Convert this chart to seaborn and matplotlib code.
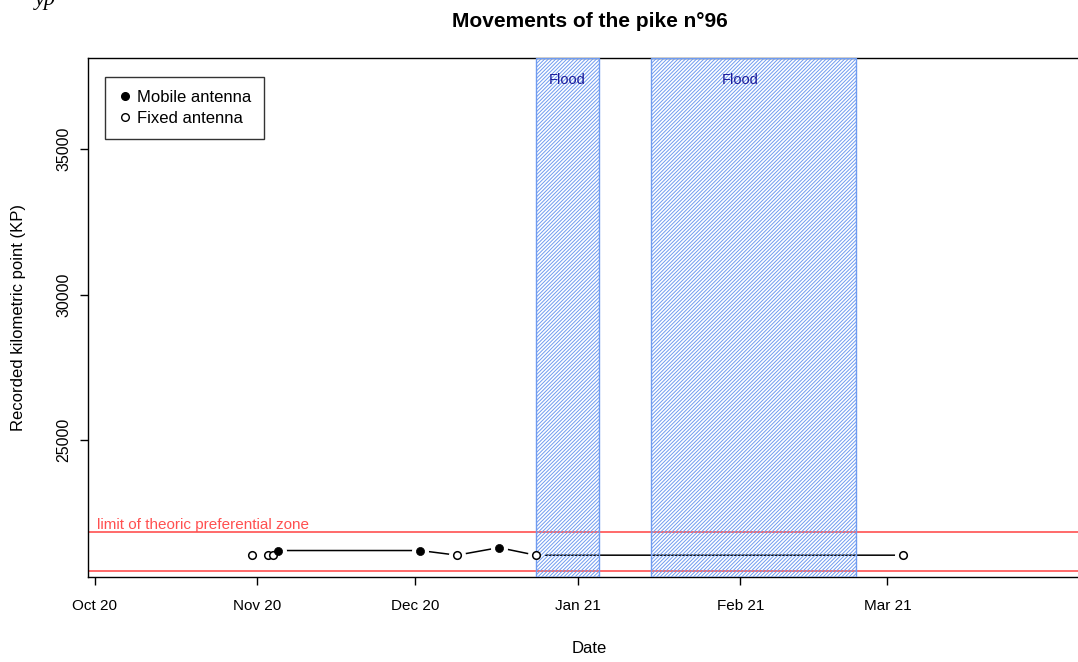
import numpy as np
import pandas as pd
import matplotlib
matplotlib.use("Agg")
import matplotlib.pyplot as plt
import seaborn as sns
from matplotlib.lines import Line2D

# ---------------- data ----------------
dates = ["2020-10-31", "2020-11-03", "2020-11-04", "2020-11-05", "2020-12-02",
         "2020-12-09", "2020-12-17", "2020-12-24", "2021-03-04"]
kp = [21040, 21040, 21040, 21200, 21200, 21040, 21300, 21040, 21040]
antenna = ["Fixed", "Fixed", "Fixed", "Mobile", "Mobile",
           "Fixed", "Mobile", "Fixed", "Fixed"]

flood_start = ["2020-12-24", "2021-01-15"]
flood_end = ["2021-01-05", "2021-02-23"]
flood_label_dates = ["2020-12-30", "2021-02-01"]
flood_labels = ["Flood", "Flood"]

zone_limits = [20500, 21830]
zone_label = "limit of theoric preferential zone"
zone_label_y = 22090

x_tick_dates = ["2020-10-01", "2020-11-01", "2020-12-01", "2021-01-01",
                "2021-02-01", "2021-03-01"]
x_tick_labels = ["Oct 20", "Nov 20", "Dec 20", "Jan 21", "Feb 21", "Mar 21"]
y_ticks = [25000, 30000, 35000]

df = pd.DataFrame({"date": pd.to_datetime(dates), "kp": kp, "antenna": antenna})

# ---------------- style ----------------
sns.set_theme(style="ticks")
plt.rcParams["font.family"] = ["Liberation Sans", "DejaVu Sans"]
plt.rcParams["hatch.linewidth"] = 0.7
for k in ["text.color", "axes.labelcolor", "xtick.color", "ytick.color"]:
    plt.rcParams[k] = "black"

fig = plt.figure(figsize=(10.78, 6.62), dpi=100)
ax = fig.add_axes([88 / 1078, 1 - 577 / 662, (1091 - 88) / 1078, (577 - 58) / 662])

# line connecting all observations
sns.lineplot(data=df, x="date", y="kp", sort=False, estimator=None,
             color="black", linewidth=1.1, ax=ax, zorder=2)
# white halos create gaps around points (R type="b")
sns.scatterplot(data=df, x="date", y="kp", color="white", s=150, linewidth=0,
                ax=ax, zorder=3, legend=False)

# floods
for s, e in zip(flood_start, flood_end):
    ax.axvspan(pd.Timestamp(s), pd.Timestamp(e), facecolor="none",
               edgecolor="#6f9bf0", hatch="/////////", linewidth=1.0, zorder=3.5)
for d, lab in zip(flood_label_dates, flood_labels):
    ax.text(pd.Timestamp(d), 37370, lab, color="#1a1a9a", fontsize=10.5,
            ha="center", va="center", zorder=5)

# zone limits
for yv in zone_limits:
    ax.axhline(yv, color="#ff5050", linewidth=1.2, zorder=1.5)
ax.text(0.009, zone_label_y, zone_label, color="#ff5050", fontsize=11,
        ha="left", va="center", transform=ax.get_yaxis_transform())

# markers
mob = df[df["antenna"] == "Mobile"]
fix = df[df["antenna"] == "Fixed"]
sns.scatterplot(data=fix, x="date", y="kp", s=30, facecolor="white",
                edgecolor="black", linewidth=1.1, ax=ax, zorder=4, legend=False)
sns.scatterplot(data=mob, x="date", y="kp", s=34, color="black",
                edgecolor="black", linewidth=0.5, ax=ax, zorder=4, legend=False)

# axes
ax.set_xlim(pd.Timestamp("2020-09-29 17:00"), pd.Timestamp("2021-04-08 19:00"))
ax.set_ylim(20290, 38130)
ax.set_xticks(pd.to_datetime(x_tick_dates))
ax.set_xticklabels(x_tick_labels, fontsize=11)
ax.set_yticks(y_ticks)
ax.set_yticklabels([str(v) for v in y_ticks], fontsize=11.5, rotation=90,
                   va="center", ha="right")
ax.tick_params(axis="both", direction="out", length=6, width=1, color="black")
ax.tick_params(axis="x", pad=10)
ax.tick_params(axis="y", pad=6)
for sp in ["top", "left", "bottom", "right"]:
    ax.spines[sp].set_visible(True)
    ax.spines[sp].set_color("black")
    ax.spines[sp].set_linewidth(1.0)

ax.set_xlabel("Date", fontsize=12)
ax.set_ylabel("Recorded kilometric point (KP)", fontsize=12)
ax.xaxis.set_label_coords((589 - 88) / 1003, (577 - 641) / 519)
ax.yaxis.set_label_coords((26 - 88) / 1003, 0.5)
ax.set_title("Movements of the pike n°96", fontsize=15, fontweight="bold", pad=22)

handles = [
    Line2D([], [], marker="o", linestyle="none", color="black",
           markerfacecolor="black", markersize=5.5),
    Line2D([], [], marker="o", linestyle="none", color="black",
           markerfacecolor="white", markeredgewidth=1.0, markersize=5.5),
]
leg = ax.legend(handles, ["Mobile antenna", "Fixed antenna"], loc="upper left",
                bbox_to_anchor=(17 / 1003, 1 - 19 / 519), borderaxespad=0,
                fontsize=12, frameon=True, fancybox=False, handletextpad=0.3,
                handlelength=0.8, labelspacing=0.33, borderpad=0.8)
leg.get_frame().set_edgecolor("black")
leg.get_frame().set_linewidth(1.0)
leg.set_zorder(6)

fig.text(35 / 1078, 0.999, "yp", fontsize=16, style="italic",
         family="Liberation Serif", ha="left", va="center")

fig.savefig("out.png", dpi=100)
